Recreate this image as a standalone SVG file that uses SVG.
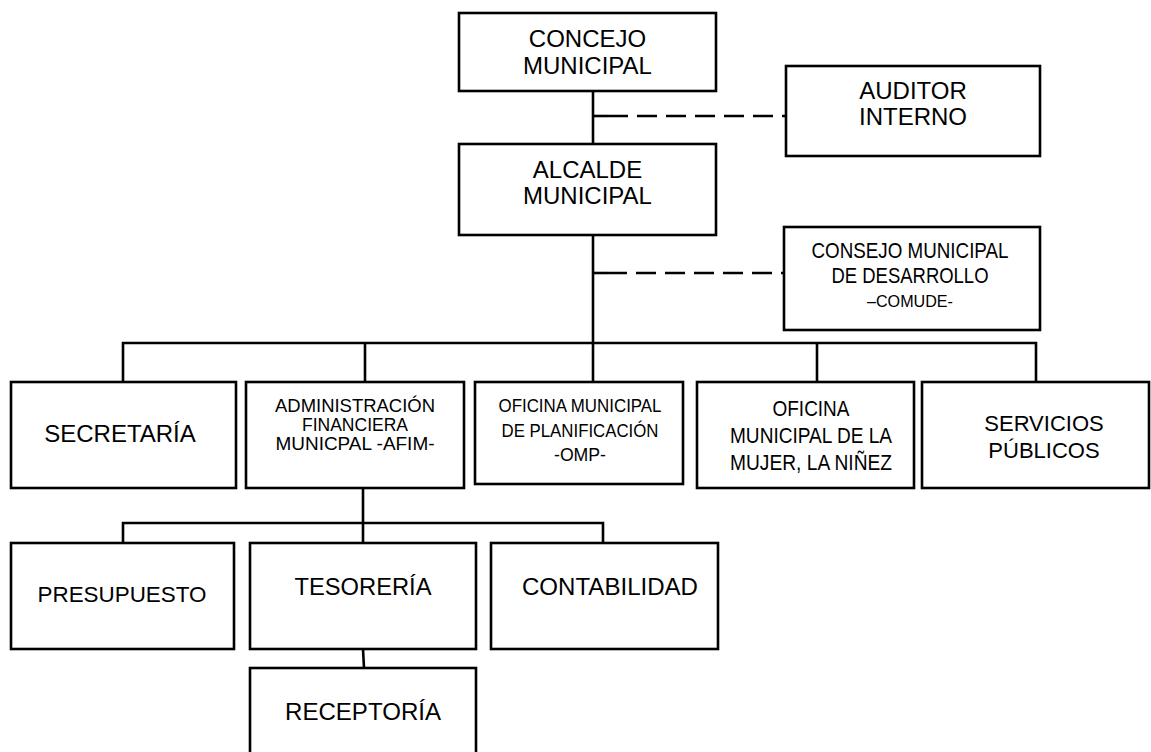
<svg xmlns="http://www.w3.org/2000/svg" width="1151" height="752" viewBox="0 0 1151 752">
<style>
.box{fill:#fff;stroke:#000;stroke-width:2.6}
.ln{fill:none;stroke:#000;stroke-width:2.6}
.dash{fill:none;stroke:#000;stroke-width:2.6;stroke-dasharray:20 9}
text{font-family:"Liberation Sans",Arial,sans-serif;fill:#000;text-anchor:middle}
.t24{font-size:24px}
.t23{font-size:23px}
.t22{font-size:22px}
.t18{font-size:17.5px}
</style>
<rect width="1151" height="752" fill="#fff"/>
<g id="connectors">
<line class="ln" x1="593" y1="91" x2="593" y2="144"/>
<line class="dash" x1="608" y1="116" x2="786" y2="116"/>
<line class="ln" x1="593" y1="116" x2="608" y2="116"/>
<line class="ln" x1="593" y1="234" x2="593" y2="343"/>
<line class="dash" x1="607" y1="273" x2="784" y2="273"/>
<line class="ln" x1="593" y1="273" x2="607" y2="273"/>
<polyline class="ln" points="123,382 123,343 1036,343 1036,382"/>
<line class="ln" x1="365" y1="343" x2="365" y2="382"/>
<line class="ln" x1="593" y1="343" x2="593" y2="382"/>
<line class="ln" x1="817" y1="343" x2="817" y2="382"/>
<line class="ln" x1="363" y1="484" x2="363" y2="543"/>
<polyline class="ln" points="123,543 123,523 603,523 603,543"/>
<line class="ln" x1="363" y1="649" x2="364" y2="668"/>
</g>
<g id="concejo">
<rect class="box" x="459" y="13" width="257" height="78"/>
<text class="t24" x="587.5" y="47">CONCEJO</text>
<text class="t24" x="587.5" y="74">MUNICIPAL</text>
</g>
<g id="auditor">
<rect class="box" x="786" y="66" width="254" height="90"/>
<text class="t24" x="913" y="99">AUDITOR</text>
<text class="t24" x="913" y="125">INTERNO</text>
</g>
<g id="alcalde">
<rect class="box" x="459" y="144" width="257" height="91"/>
<text class="t24" x="587.5" y="178">ALCALDE</text>
<text class="t24" x="587.5" y="204">MUNICIPAL</text>
</g>
<g id="comude">
<rect class="box" x="784" y="227" width="256" height="103"/>
<text class="t22" x="910" y="258" textLength="197" lengthAdjust="spacingAndGlyphs">CONSEJO MUNICIPAL</text>
<text class="t22" x="910" y="283" textLength="157" lengthAdjust="spacingAndGlyphs">DE DESARROLLO</text>
<text x="910" y="307" font-size="16" textLength="86" lengthAdjust="spacingAndGlyphs">–COMUDE-</text>
</g>
<g id="secretaria">
<rect class="box" x="11" y="382" width="225" height="106"/>
<text class="t24" x="120" y="442">SECRETARÍA</text>
</g>
<g id="afim">
<rect class="box" x="246" y="382" width="218" height="106"/>
<text class="t18" x="355" y="412" textLength="160" lengthAdjust="spacingAndGlyphs">ADMINISTRACIÓN</text>
<text class="t18" x="355" y="431">FINANCIERA</text>
<text class="t18" x="355" y="450" textLength="159" lengthAdjust="spacingAndGlyphs">MUNICPAL -AFIM-</text>
</g>
<g id="omp">
<rect class="box" x="475" y="382" width="208" height="102"/>
<text x="580" y="412" font-size="19" textLength="163" lengthAdjust="spacingAndGlyphs">OFICINA MUNICIPAL</text>
<text x="580" y="437" font-size="19" textLength="157" lengthAdjust="spacingAndGlyphs">DE PLANIFICACIÓN</text>
<text x="580" y="461" font-size="19" textLength="52" lengthAdjust="spacingAndGlyphs">-OMP-</text>
</g>
<g id="mujer">
<rect class="box" x="697" y="382" width="217" height="106"/>
<text class="t22" x="811" y="416" textLength="77" lengthAdjust="spacingAndGlyphs">OFICINA</text>
<text class="t22" x="811" y="443" textLength="162" lengthAdjust="spacingAndGlyphs">MUNICIPAL DE LA</text>
<text class="t22" x="811" y="470" textLength="162" lengthAdjust="spacingAndGlyphs">MUJER, LA NIÑEZ</text>
</g>
<g id="servicios">
<rect class="box" x="922" y="382" width="227" height="106"/>
<text class="t22" x="1044" y="431">SERVICIOS</text>
<text class="t22" x="1044" y="458">PÚBLICOS</text>
</g>
<g id="presupuesto">
<rect class="box" x="11" y="543" width="223" height="106"/>
<text class="t22" x="122" y="602" textLength="169" lengthAdjust="spacingAndGlyphs">PRESUPUESTO</text>
</g>
<g id="tesoreria">
<rect class="box" x="250" y="543" width="226" height="106"/>
<text class="t23" x="363" y="595" textLength="137" lengthAdjust="spacingAndGlyphs">TESORERÍA</text>
</g>
<g id="contabilidad">
<rect class="box" x="491" y="543" width="227" height="106"/>
<text class="t23" x="610" y="595" textLength="176" lengthAdjust="spacingAndGlyphs">CONTABILIDAD</text>
</g>
<g id="receptoria">
<rect class="box" x="250" y="668" width="226" height="100"/>
<text class="t23" x="363" y="720" textLength="156" lengthAdjust="spacingAndGlyphs">RECEPTORÍA</text>
</g>
</svg>
